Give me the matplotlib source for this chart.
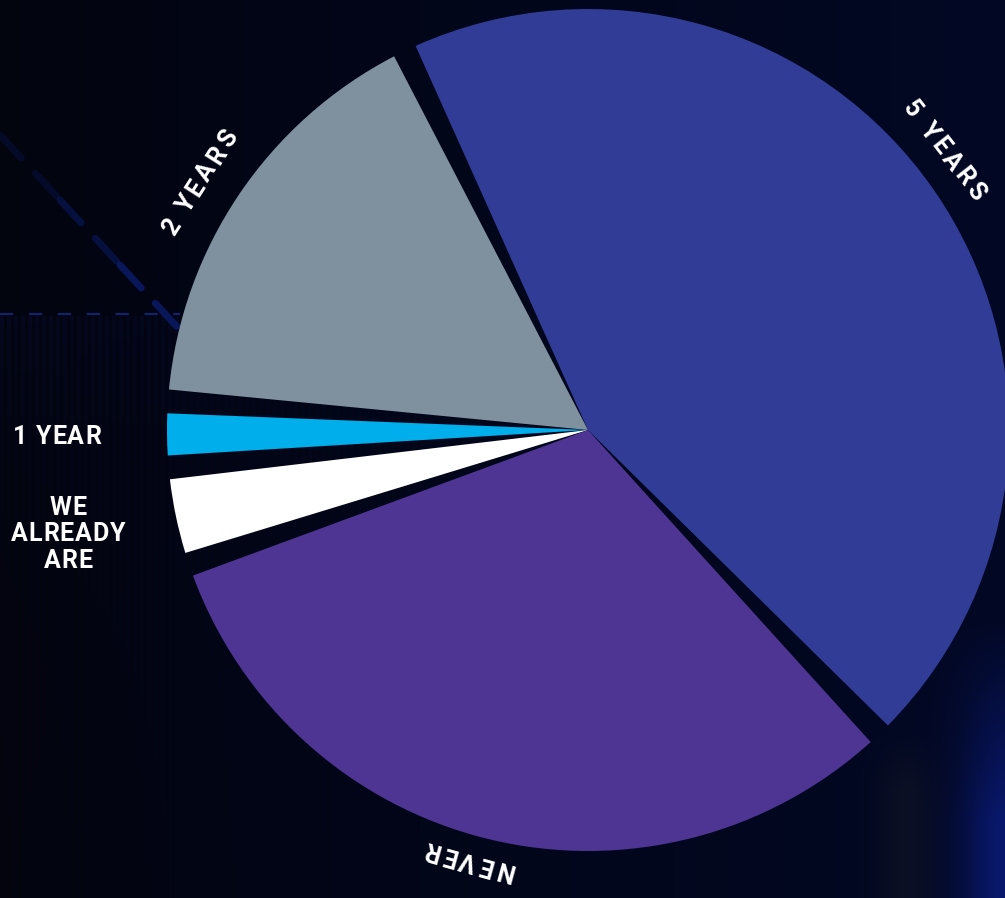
import numpy as np
import matplotlib
matplotlib.use("Agg")
import matplotlib.pyplot as plt
from matplotlib.font_manager import FontProperties, findfont
from matplotlib.ft2font import FT2Font

# ---- data ----
categories = ["2 YEARS", "1 YEAR", "WE\nALREADY\nARE", "NEVER", "5 YEARS"]
shares = [16.75, 2.5, 3.75, 32.0, 45.0]
colors = ["#7F919E", "#00AEEC", "#FFFFFF", "#4E3594", "#313C96"]

W, H, DPI = 1005, 898, 100
CX, CY, R = 588, H - 430, 421
GAP = 3.25  # angular gap between slices, degrees

fig = plt.figure(figsize=(W / DPI, H / DPI), dpi=DPI)
ax = fig.add_axes([0, 0, 1, 1])

# ---- background ----
yy, xx = np.mgrid[0:H, 0:W].astype(float)
left = np.array([3, 4, 14], float)
right = np.array([2, 8, 36], float)
t = np.clip(xx / W, 0, 1)[..., None] ** 0.8
bg = left * (1 - t) + right * t
# bluish glow on the lower right edge
glow = np.exp(-((W - xx) / 45.0) ** 2) * np.clip((yy - 620) / 200.0, 0, 1)
bg += glow[..., None] * np.array([7, 16, 72], float)
# soft grey column under the right slice
col = np.exp(-((xx - 905) / 28.0) ** 2) * np.clip((yy - 730) / 60.0, 0, 1)
bg += col[..., None] * np.array([9, 8, 2], float)
# faint vertical stripes on the left
stripe = ((xx // 3.5) % 2 == 0).astype(float)
fade = np.where(yy >= 316, np.exp(-(yy - 316) / 140.0), 0) * np.exp(-xx / 300.0)
bg += (stripe * fade)[..., None] * np.array([2, 4, 16], float)
bg = np.clip(bg, 0, 255) / 255.0
ax.imshow(bg, extent=(0, W, 0, H), origin="upper", zorder=0, interpolation="bilinear")

# decorative dashed lines
ax.plot([0, 180], [H - 314, H - 314], color="#14226A", lw=1.6,
        dashes=(6, 7), zorder=1)
for (x0, y0, x1, y1, a) in [(0, 135, 60, 200, 0.3), (60, 200, 120, 265, 0.55),
                             (120, 265, 180, 330, 0.85)]:
    ax.plot([x0, x1], [H - y0, H - y1], color="#0B1A66", lw=5.0, alpha=a,
            dashes=(4.5, 3.0), solid_capstyle="round", dash_capstyle="round", zorder=1)

# ---- pie ----
wedges, _ = ax.pie(shares, colors=colors, startangle=115.8, counterclock=True,
                   radius=R, center=(CX, CY), wedgeprops=dict(linewidth=0))
for w in wedges:
    w.set_theta1(w.theta1 + GAP / 2)
    w.set_theta2(w.theta2 - GAP / 2)
    w.set_zorder(2)

ax.set_xlim(0, W)
ax.set_ylim(0, H)
ax.set_aspect("equal")
ax.axis("off")

# ---- labels with letter spacing ----
FP = FontProperties(family="Roboto", weight="bold")
FONT = FT2Font(findfont(FP))
SIZE = 18.0
CAP = 0.711 * SIZE * DPI / 72


def tracked(x, y, s, angle, tracking=3.0, size=SIZE):
    FONT.set_size(size, DPI)
    adv = [FONT.load_char(ord(c)).linearHoriAdvance / 65536 for c in s]
    total = sum(adv) + tracking * (len(s) - 1)
    a = np.deg2rad(angle)
    ux, uy = np.cos(a), np.sin(a)
    nx, ny = -uy, ux
    off = -total / 2
    bx = x - nx * CAP / 2
    by = y - ny * CAP / 2
    for c, d in zip(s, adv):
        ax.text(bx + ux * off, by + uy * off, c, rotation=angle,
                rotation_mode="anchor", ha="left", va="baseline",
                color="white", fontproperties=FP, fontsize=size, zorder=5)
        off += d + tracking


def arc_label(text, theta, rad):
    a = np.deg2rad(theta)
    tracked(CX + rad * np.cos(a), CY + rad * np.sin(a), text, theta - 90, tracking=3.5)


arc_label(categories[4], 38.1, 454)
arc_label(categories[0], 147.5, 462)
arc_label(categories[3], 254.5, 448)

tracked(57, H - 435, categories[1], 0, tracking=1.0)
for i, line in enumerate(categories[2].split("\n")):
    tracked(68, H - (506 + 26.5 * i), line, 0, tracking=1.0)

fig.savefig("out.png", dpi=DPI, facecolor="#03040E")
